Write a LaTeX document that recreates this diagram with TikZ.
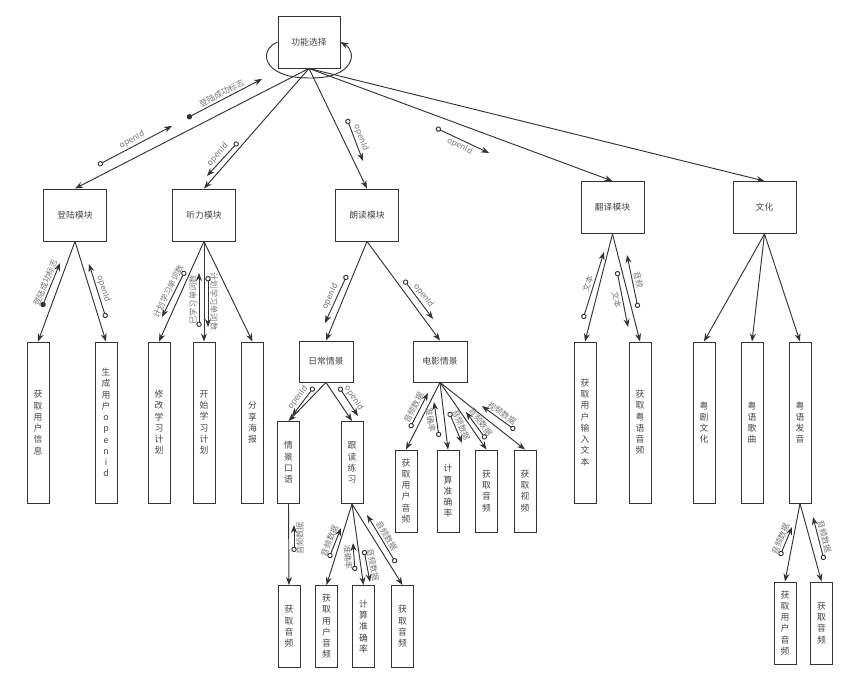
\documentclass[tikz,border=0pt]{standalone}
\usepackage{fontspec}
\setmainfont{Noto Sans CJK SC}
\usetikzlibrary{arrows.meta}
\definecolor{linec}{HTML}{333333}
\definecolor{textc}{HTML}{444444}
\definecolor{lblc}{HTML}{777777}

\begin{document}
\begin{tikzpicture}[x=0.03cm, y=-0.03cm, >={Stealth[length=2.4mm,width=1.8mm]},
  box/.style={draw=linec, line width=0.8pt, text=textc, font=\fontsize{7.5}{9}\selectfont,
    minimum width=1.89cm, minimum height=1.56cm, inner sep=1pt},
  smallbox/.style={box, minimum width=1.62cm, minimum height=1.23cm},
  tallbox/.style={box, align=center, minimum width=0.66cm, minimum height=4.83cm,
    font=\fontsize{7.5}{9.6}\selectfont},
  shortbox/.style={tallbox, minimum height=2.46cm},
  edge/.style={draw=linec, line width=0.8pt, ->},
  flow/.style={draw=linec, line width=0.8pt, {Circle[open,length=1.6mm]}->},
  flowdot/.style={flow, {Circle[length=1.6mm]}->},
  lbl/.style={sloped, text=lblc, font=\fontsize{7}{8}\selectfont, inner sep=1.5pt}]
  \useasboundingbox (0,0) rectangle (863,684);

  % top and first level
  \node[box, minimum width=1.86cm] (sel) at (309,42) {功能选择};
  \node[box] (login) at (75,215) {登陆模块};
  \node[box] (listen) at (204,215) {听力模块};
  \node[box] (read) at (367,215) {朗读模块};
  \node[box] (trans) at (612.5,207.5) {翻译模块};
  \node[box] (culture) at (764.5,207.5) {文化};

  % second level
  \node[tallbox] (info) at (38,422.5) {获\\取\\用\\户\\信\\息};
  \node[tallbox] (genid) at (106,422.5) {生\\成\\用\\户\\o\\p\\e\\n\\i\\d};
  \node[tallbox] (modplan) at (159,422.5) {修\\改\\学\\习\\计\\划};
  \node[tallbox] (startplan) at (204,422.5) {开\\始\\学\\习\\计\\划};
  \node[tallbox] (poster) at (252.5,422.5) {分\\享\\海\\报};
  \node[smallbox] (daily) at (326,361.5) {日常情景};
  \node[smallbox] (movie) at (440,361.5) {电影情景};
  \node[tallbox] (input) at (585,422.5) {获\\取\\用\\户\\输\\入\\文\\本};
  \node[tallbox] (yueaudio) at (640,422.5) {获\\取\\粤\\语\\音\\频};
  \node[tallbox] (opera) at (704,422.5) {粤\\剧\\文\\化};
  \node[tallbox] (songs) at (752,422.5) {粤\\语\\歌\\曲};
  \node[tallbox] (pron) at (800,422.5) {粤\\语\\发\\音};

  % scenes
  \node[shortbox] (oral) at (288.5,462.5) {情\\景\\口\\语};
  \node[shortbox] (follow) at (352,462.5) {跟\\读\\练\\习};
  \node[shortbox] (mvuser) at (406,491) {获\\取\\用\\户\\音\\频};
  \node[shortbox] (mvacc) at (448,491) {计\\算\\准\\确\\率};
  \node[shortbox] (mvaudio) at (486.5,491) {获\\取\\音\\频};
  \node[shortbox] (mvvideo) at (525,491) {获\\取\\视\\频};

  % bottom
  \node[shortbox] (oraudio) at (289,626.5) {获\\取\\音\\频};
  \node[shortbox] (fluser) at (326.5,626.5) {获\\取\\用\\户\\音\\频};
  \node[shortbox] (flacc) at (363.5,626.5) {计\\算\\准\\确\\率};
  \node[shortbox] (flaudio) at (402.5,626.5) {获\\取\\音\\频};
  \node[shortbox] (pnuser) at (785,623) {获\\取\\用\\户\\音\\频};
  \node[shortbox] (pnaudio) at (821.5,623) {获\\取\\音\\频};

  % tree edges
  \draw[edge] (sel.west) .. controls (258,50) and (262,78) .. (309,78)
    .. controls (354,79) and (358,52) .. (sel.east);
  \foreach \c in {login,listen,read,trans,culture}
    \draw[edge] (sel.south) -- (\c.north);
  \foreach \c in {info,genid}
    \draw[edge] (login.south) -- (\c.north);
  \foreach \c in {modplan,startplan,poster}
    \draw[edge] (listen.south) -- (\c.north);
  \foreach \c in {daily,movie}
    \draw[edge] (read.south) -- (\c.north);
  \foreach \c in {oral,follow}
    \draw[edge] (daily.south) -- (\c.north);
  \foreach \c in {mvuser,mvacc,mvaudio,mvvideo}
    \draw[edge] (movie.south) -- (\c.north);
  \draw[edge] (oral.south) -- (oraudio.north);
  \foreach \c in {fluser,flacc,flaudio}
    \draw[edge] (follow.south) -- (\c.north);
  \foreach \c in {input,yueaudio}
    \draw[edge] (trans.south) -- (\c.north);
  \foreach \c in {opera,songs,pron}
    \draw[edge] (culture.south) -- (\c.north);
  \foreach \c in {pnuser,pnaudio}
    \draw[edge] (pron.south) -- (\c.north);

  % data flow marks, top
  \coordinate (f1a) at (98,165); \coordinate (f1b) at (172,126);
  \coordinate (f2a) at (187,118); \coordinate (f2b) at (262,79);
  \coordinate (f3a) at (238,142); \coordinate (f3b) at (207,176);
  \coordinate (f4a) at (347,119); \coordinate (f4b) at (363,161);
  \coordinate (f5a) at (436,128); \coordinate (f5b) at (489,153);
  \draw[flow] (f1a) -- node[lbl, above] {openId} (f1b);
  \draw[flowdot] (f2a) -- node[lbl, above] {登陆成功标志} (f2b);
  \draw[flow] (f3a) -- node[lbl, above] {openId} (f3b);
  \draw[flow] (f4a) -- node[lbl, above] {openId} (f4b);
  \draw[flow] (f5a) -- node[lbl, below] {openId} (f5b);

  % login and listening
  \coordinate (f6a) at (42,307); \coordinate (f6b) at (60,263);
  \coordinate (f7a) at (106,318); \coordinate (f7b) at (89,264);
  \coordinate (f8a) at (185,271); \coordinate (f8b) at (162,317);
  \coordinate (f9a) at (199,327); \coordinate (f9b) at (199,273);
  \coordinate (f10a) at (208,276); \coordinate (f10b) at (208,327);
  \draw[flowdot] (f6a) -- node[lbl, above] {登陆成功标志} (f6b);
  \draw[flow] (f7a) -- node[lbl, above] {openId} (f7b);
  \draw[flow] (f8a) -- node[lbl, above] {计划学习单词数} (f8b);
  \draw[flow] (f9a) -- node[lbl, above] {已学习单词数} (f9b);
  \draw[flow] (f10a) -- node[lbl, above] {计划学习单词数} (f10b);

  % reading
  \coordinate (f11a) at (347,275); \coordinate (f11b) at (325,323);
  \coordinate (f12a) at (404,280); \coordinate (f12b) at (433,319);
  \coordinate (f13a) at (314,387); \coordinate (f13b) at (292,416);
  \coordinate (f14a) at (339,387); \coordinate (f14b) at (358,416);
  \draw[flow] (f11a) -- node[lbl, above] {openId} (f11b);
  \draw[flow] (f12a) -- node[lbl, above] {openId} (f12b);
  \draw[flow] (f13a) -- node[lbl, above] {openId} (f13b);
  \draw[flow] (f14a) -- node[lbl, above] {openId} (f14b);

  % movie scene
  \coordinate (f15a) at (410,428); \coordinate (f15b) at (428,393);
  \coordinate (f16a) at (439,437); \coordinate (f16b) at (434,402);
  \coordinate (f17a) at (449,412); \coordinate (f17b) at (462,443);
  \coordinate (f18a) at (486,439); \coordinate (f18b) at (466,412);
  \coordinate (f19a) at (515,430); \coordinate (f19b) at (482,406);
  \draw[flow] (f15a) -- node[lbl, above] {音频数据} (f15b);
  \draw[flow] (f16a) -- node[lbl, below] {准确率} (f16b);
  \draw[flow] (f17a) -- node[lbl, above] {音频数据} (f17b);
  \draw[flow] (f18a) -- node[lbl, above] {音频数据} (f18b);
  \draw[flow] (f19a) -- node[lbl, above] {视频数据} (f19b);

  % daily scene
  \coordinate (f20a) at (294,552); \coordinate (f20b) at (294,525);
  \coordinate (f21a) at (329,558); \coordinate (f21b) at (341,528);
  \coordinate (f22a) at (355,571); \coordinate (f22b) at (353,543);
  \coordinate (f23a) at (364,550); \coordinate (f23b) at (370,582);
  \coordinate (f24a) at (396,563); \coordinate (f24b) at (367,515);
  \draw[flow] (f20a) -- node[lbl, below] {音频数据} (f20b);
  \draw[flow] (f21a) -- node[lbl, above] {音频数据} (f21b);
  \draw[flow] (f22a) -- node[lbl, below] {准确率} (f22b);
  \draw[flow] (f23a) -- node[lbl, above] {音频数据} (f23b);
  \draw[flow] (f24a) -- node[lbl, above] {音频数据} (f24b);

  % translation and culture
  \coordinate (f25a) at (583,319); \coordinate (f25b) at (604,252);
  \coordinate (f26a) at (617,271); \coordinate (f26b) at (628,327);
  \coordinate (f27a) at (638,308); \coordinate (f27b) at (627,255);
  \coordinate (f28a) at (780,556); \coordinate (f28b) at (792,527);
  \coordinate (f29a) at (824,560); \coordinate (f29b) at (813,517);
  \draw[flow] (f25a) -- node[lbl, above] {文本} (f25b);
  \draw[flow] (f26a) -- node[lbl, below] {文本} (f26b);
  \draw[flow] (f27a) -- node[lbl, above] {音频} (f27b);
  \draw[flow] (f28a) -- node[lbl, above] {音频数据} (f28b);
  \draw[flow] (f29a) -- node[lbl, above] {音频数据} (f29b);
\end{tikzpicture}
\end{document}
